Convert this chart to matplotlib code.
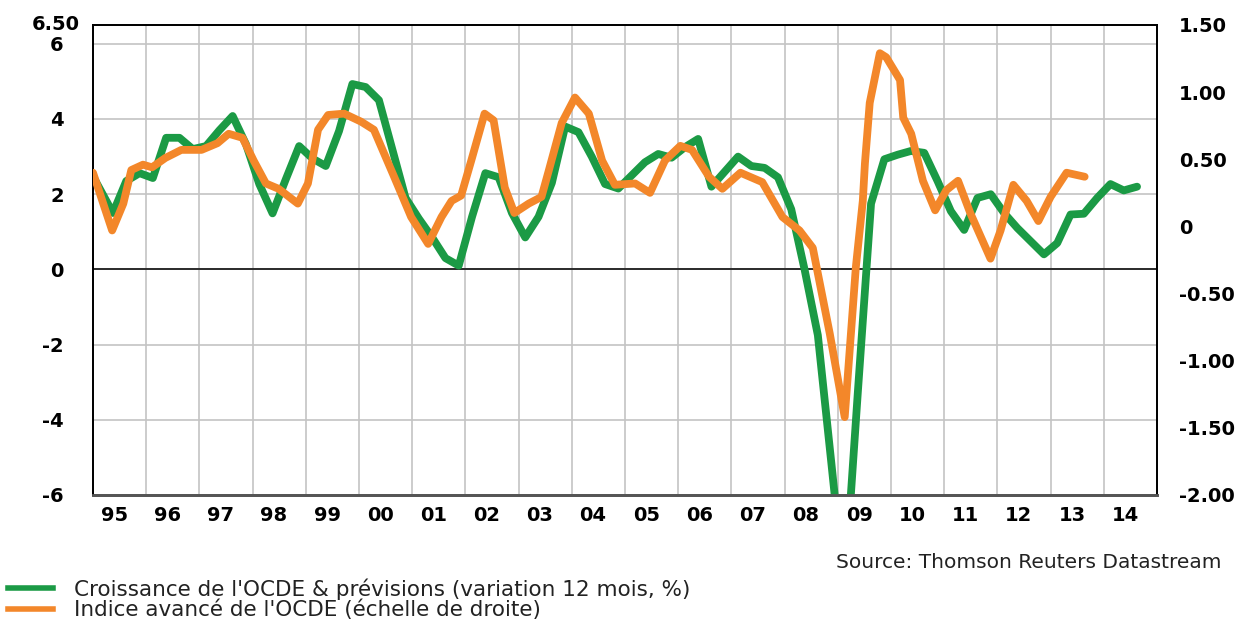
import numpy as np
import matplotlib.pyplot as plt
from matplotlib import transforms
from matplotlib.lines import Line2D

GREEN = "#1b9a45"
ORANGE = "#f3872a"

# OECD growth & forecasts (12-month change, %), quarterly, first point 1994Q4
growth_start = 1994.875
growth = [
    2.8, 2.15, 1.5, 2.35, 2.56, 2.43, 3.5, 3.5, 3.2, 3.28,
    3.7, 4.08, 3.33, 2.27, 1.49, 2.4, 3.28, 2.95, 2.75, 3.68,
    4.93, 4.85, 4.5, 3.2, 1.9, 1.35, 0.85, 0.3, 0.1, 1.4,
    2.56, 2.45, 1.5, 0.85, 1.4, 2.3, 3.8, 3.65, 3.0, 2.27,
    2.15, 2.5, 2.85, 3.07, 2.97, 3.25, 3.47, 2.2, 2.6, 3.0,
    2.75, 2.7, 2.45, 1.6, 0.0, -1.75, -5.1, -8.5, -3.3, 1.75,
    2.93, 3.05, 3.15, 3.1, 2.35, 1.55, 1.05, 1.9, 2.0, 1.5,
    1.1, 0.75, 0.4, 0.7, 1.46, 1.48, 1.9, 2.27, 2.1, 2.2,
]

# OECD leading indicator (right-hand scale)
cli_t = [
    1995.00, 1995.36, 1995.57, 1995.72, 1995.94, 1996.11, 1996.36, 1996.66,
    1997.04, 1997.34, 1997.55, 1997.81, 1998.02, 1998.25, 1998.49, 1998.85,
    1999.04, 1999.23, 1999.42, 1999.72, 2000.04, 2000.28, 2000.66, 2000.98,
    2001.30, 2001.55, 2001.74, 2001.92, 2002.11, 2002.36, 2002.53, 2002.74,
    2002.92, 2003.19, 2003.43, 2003.57, 2003.81, 2004.06, 2004.32, 2004.57,
    2004.81, 2005.19, 2005.47, 2005.75, 2006.04, 2006.26, 2006.58, 2006.83,
    2007.17, 2007.58, 2007.96, 2008.28, 2008.53, 2008.85, 2009.13, 2009.34,
    2009.47, 2009.51, 2009.60, 2009.79, 2009.91, 2010.17, 2010.23, 2010.38,
    2010.60, 2010.83, 2011.04, 2011.26, 2011.49, 2011.87, 2012.06, 2012.30,
    2012.55, 2012.77, 2013.00, 2013.30, 2013.64,
]
cli_v = [
    0.40, -0.03, 0.17, 0.42, 0.46, 0.44, 0.51, 0.57,
    0.57, 0.62, 0.69, 0.66, 0.49, 0.32, 0.28, 0.17,
    0.32, 0.72, 0.83, 0.84, 0.78, 0.72, 0.37, 0.07,
    -0.13, 0.07, 0.19, 0.23, 0.49, 0.84, 0.79, 0.29,
    0.10, 0.17, 0.22, 0.42, 0.77, 0.96, 0.84, 0.49,
    0.31, 0.32, 0.25, 0.49, 0.60, 0.57, 0.37, 0.28,
    0.40, 0.33, 0.07, -0.03, -0.16, -0.80, -1.42, -0.30,
    0.19, 0.47, 0.92, 1.29, 1.26, 1.09, 0.81, 0.69,
    0.34, 0.12, 0.27, 0.34, 0.10, -0.24, -0.03, 0.31,
    0.19, 0.04, 0.22, 0.40, 0.37,
]

years = list(range(1995, 2015))
year_labels = [f"{y % 100:02d}" for y in years]
left_ticks = [6, 4, 2, 0, -2, -4, -6]
right_ticks = [1.5, 1.0, 0.5, 0, -0.5, -1.0, -1.5, -2.0]
right_labels = ["1.50", "1.00", "0.50", "0", "-0.50", "-1.00", "-1.50", "-2.00"]

growth_t = growth_start + 0.25 * np.arange(len(growth))

W, H = 1248, 621
fig = plt.figure(figsize=(W / 100, H / 100), dpi=100)
ax = fig.add_axes([93 / W, 126 / H, 1064 / W, 470 / H])
ax2 = ax.twinx()

tick_font = dict(family="DejaVu Sans", weight="bold", size=14)

ax.plot(growth_t, growth, color=GREEN, lw=5.6, solid_joinstyle="round",
        solid_capstyle="round", zorder=3)
ax2.plot(cli_t, cli_v, color=ORANGE, lw=5.6, solid_joinstyle="round",
         solid_capstyle="round", zorder=3)

ax.set_xlim(1995, 2015)
ax.set_ylim(-6, 6.5)
ax2.set_ylim(-2, 1.5)

# year gridlines, labels sit inside each year
ax.set_xticks(years[1:])
ax.set_xticklabels([])
ax.set_xticks([y + 0.4 for y in years], minor=True)
ax.set_xticklabels(year_labels, minor=True, fontdict=tick_font)
ax.xaxis.grid(True, which="major", color="#c4c4c4", lw=1.2)
ax.tick_params(axis="x", which="both", length=0, pad=8)

ax.set_yticks(left_ticks)
ax.set_yticklabels([str(v) for v in left_ticks], fontdict=tick_font)
ax.yaxis.grid(True, color="#c4c4c4", lw=1.2)
ax.tick_params(axis="y", length=0, pad=21)
ax.axhline(0, color="black", lw=1.1, zorder=2)
ax.text(-0.012, 6.5, "6.50", ha="right", va="center", fontdict=tick_font,
        transform=transforms.blended_transform_factory(ax.transAxes, ax.transData))

ax2.set_yticks(right_ticks)
ax2.set_yticklabels(right_labels, fontdict=tick_font)
ax2.tick_params(axis="y", length=0, pad=16)

for a in (ax, ax2):
    a.set_axisbelow(True)
    for side in ("top", "left", "right"):
        a.spines[side].set_color("black")
        a.spines[side].set_linewidth(1.3)
    a.spines["bottom"].set_color("#555555")
    a.spines["bottom"].set_linewidth(2)

fig.text(1222 / W, 1 - 563 / H, "Source: Thomson Reuters Datastream",
         ha="right", va="center", family="DejaVu Sans", size=14.5, color="#222222")

handles = [Line2D([], [], color=GREEN, lw=4), Line2D([], [], color=ORANGE, lw=4)]
fig.legend(handles,
           ["Croissance de l'OCDE & prévisions (variation 12 mois, %)",
            "Indice avancé de l'OCDE (échelle de droite)"],
           loc="upper left", bbox_to_anchor=(8 / W, 1 - 578 / H),
           frameon=False, prop=dict(family="DejaVu Sans", size=15.5),
           handlelength=2.1, handletextpad=0.95, labelspacing=0.02,
           borderpad=0, borderaxespad=0, labelcolor="#222222")

fig.savefig("out.png", dpi=100)
